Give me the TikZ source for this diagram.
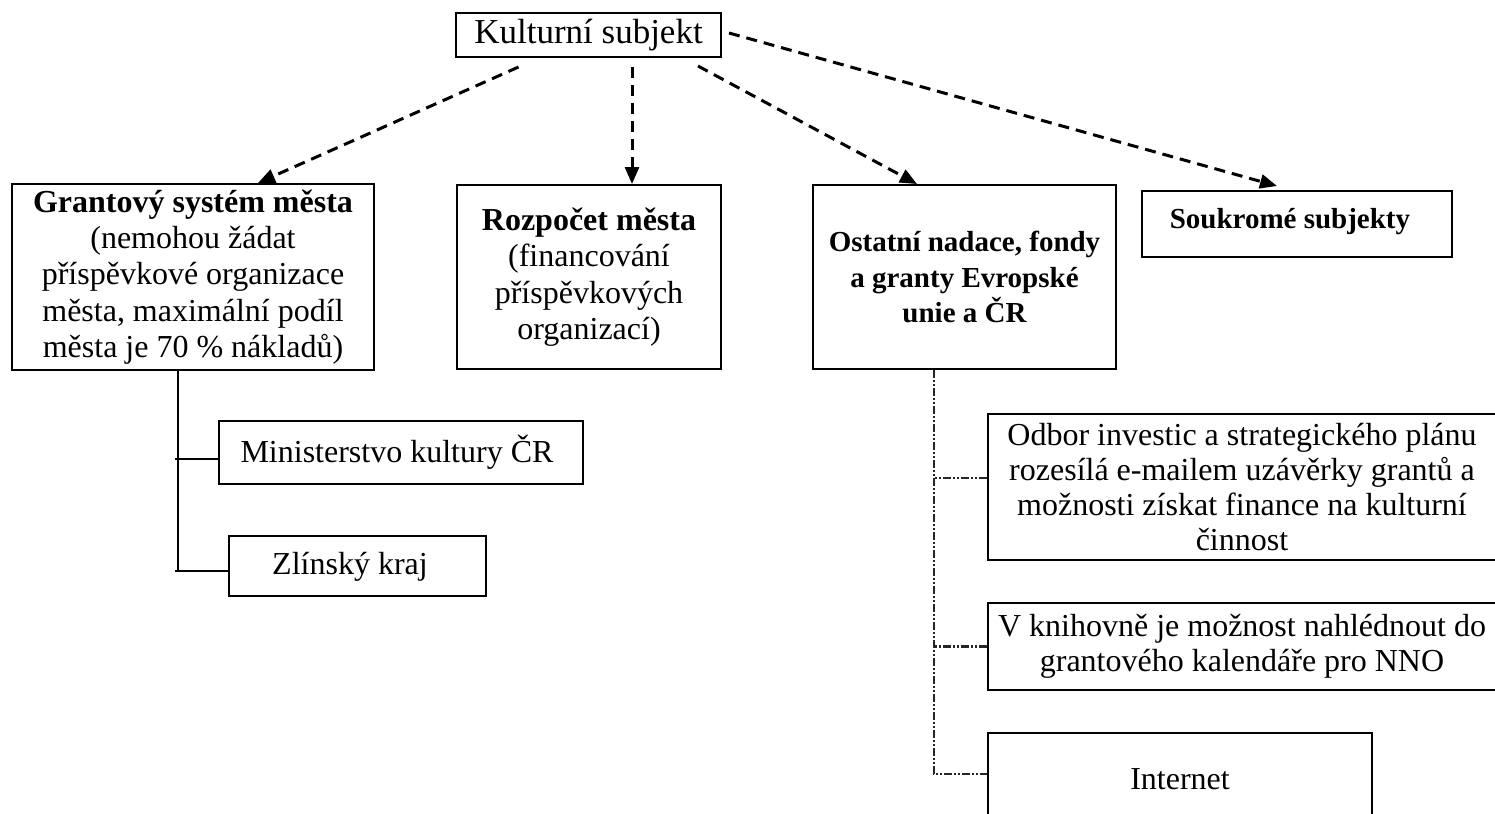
\documentclass[tikz,border=0pt]{standalone}
\usepackage{fontspec}
\setmainfont{Liberation Serif}
\usetikzlibrary{arrows.meta}
\begin{document}
\begin{tikzpicture}[x=0.5pt,y=-0.5pt,
  box/.style={draw, line width=1pt, inner sep=0pt, align=center,
    font=\fontsize{16}{18.2}\selectfont},
  boldbox/.style={box, font=\fontsize{14.5}{17.8}\selectfont\bfseries},
  rbox/.style={box, line width=0.9pt, font=\fontsize{16}{17.6}\selectfont},
  dasharrow/.style={line width=1.5pt, dash pattern=on 5.5pt off 3.5pt,
    -{Triangle[length=8.5pt,width=7pt]}},
  solidline/.style={line width=1pt},
  ddline/.style={line width=1.2pt, draw=black!85,
    dash pattern=on 4pt off 1pt on 1pt off 1pt on 1pt off 1pt}]
\useasboundingbox (0,0) rectangle (1495,814);
\clip (0,0) rectangle (1495,814);

% top node
\node[box, minimum width=132.5pt, minimum height=22pt,
  font=\fontsize{17.5}{20}\selectfont] (ks) at (588.5,35) {Kulturní subjekt};

% second row
\node[box, minimum width=181pt, minimum height=93pt] (g) at (193,277)
  {\textbf{Grantový systém města}\\(nemohou žádat\\příspěvkové organizace\\města, maximální podíl\\města je 70~\% nákladů)};
\node[box, minimum width=132pt, minimum height=92pt] (r) at (589,277)
  {\textbf{Rozpočet města}\\(financování\\příspěvkových\\organizací)};
\node[boldbox, minimum width=151.5pt, minimum height=92pt] (o) at (964.5,277)
  {\rule{0pt}{3pt}Ostatní nadace, fondy\\a granty Evropské\\unie a ČR};
\node[boldbox, minimum width=155pt, minimum height=33pt] (s) at (1297,224) {};
\node[font=\fontsize{14.5}{17.5}\selectfont\bfseries, inner sep=0pt] (st) at (1290,222) {Soukromé subjekty};

% left branch
\node[box, minimum width=182pt, minimum height=31.5pt] (m) at (401,452.5) {};
\node[font=\fontsize{16}{18.2}\selectfont, inner sep=0pt] (mt) at (397,452) {Ministerstvo kultury ČR};
\node[box, minimum width=128.5pt, minimum height=30pt] (z) at (357.5,566) {};
\node[font=\fontsize{16}{18.2}\selectfont, inner sep=0pt] (zt) at (350,567) {Zlínský kraj};

% right branch
\node[rbox, minimum width=254pt, minimum height=73pt] (od) at (1242,487)
  {Odbor investic a strategického plánu\\rozesílá e-mailem uzávěrky grantů a\\možnosti získat finance na kulturní\\činnost};
\node[rbox, minimum width=254pt, minimum height=43.5pt] (vk) at (1242,646.5)
  {V knihovně je možnost nahlédnout do\\grantového kalendáře pro NNO};
\node[rbox, minimum width=192pt, minimum height=46pt] (in) at (1180,779) {Internet};

% dashed arrows from top node
\draw[dasharrow] ([xshift=-35pt,yshift=-4.5pt]ks.south) -- ([xshift=32.5pt]g.north);
\draw[dasharrow] ([xshift=21.75pt,yshift=-4.5pt]ks.south) -- ([xshift=21.5pt]r.north);
\draw[dasharrow] ([xshift=54.75pt,yshift=-4pt]ks.south) -- ([xshift=-23.75pt]o.north);
\draw[dasharrow] ([xshift=3.5pt,yshift=1pt]ks.east) -- ([xshift=-10pt,yshift=2pt]s.north);

% solid tree on the left
\coordinate (gs) at ([xshift=-7.5pt]g.south);
\coordinate (zl) at ([yshift=-2.5pt]z.west);
\coordinate (ml) at ([yshift=-3.25pt]m.west);
\draw[solidline] (gs) -- (gs |- zl);
\draw[solidline] (ml) -- ([xshift=-1.5pt]gs |- ml);
\draw[solidline] (zl) -- ([xshift=-1.5pt]gs |- zl);

% dash-dot tree on the right
\coordinate (os) at ([xshift=-15.25pt]o.south);
\coordinate (inl) at ([yshift=2.5pt]in.west);
\coordinate (odl) at ([yshift=4.5pt]od.west);
\draw[ddline] (os) |- (inl);
\draw[ddline] (odl) -- (os |- odl);
\draw[ddline] (vk.west) -- (os |- vk.west);
\end{tikzpicture}
\end{document}
